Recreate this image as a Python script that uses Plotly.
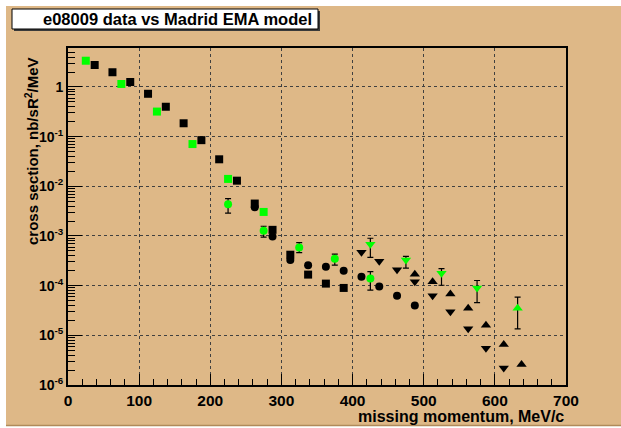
import plotly.graph_objects as go

# ---------------- data ----------------
bsq_x = [37.5, 62.5, 87.5, 112.5, 137.5, 162.5, 187.5, 212.5, 237.5, 262.5, 287.5, 312.5, 337.5, 362.5, 387.5]
bsq_y = [2.77, 1.98, 1.26, 0.73, 0.40, 0.186, 0.085, 0.035, 0.0130, 0.0045, 0.00133, 4.2e-4, 1.67e-4, 1.1e-4, 9.0e-5]

gsq_x = [25, 75, 125, 175, 225, 275]
gsq_y = [3.38, 1.15, 0.32, 0.071, 0.0141, 0.00305]

bci_x = [262.5, 287.5, 312.5, 337.5, 362.5, 387.5, 412.5, 437.5, 462.5, 487.5]
bci_y = [0.0038, 0.00098, 3.3e-4, 2.58e-4, 2.4e-4, 2.0e-4, 1.52e-4, 9.6e-5, 6.3e-5, 4.0e-5]

gci_x = [225, 275, 325, 375, 425]
gci_y = [0.00436, 0.00127, 5.9e-4, 3.5e-4, 1.39e-4]
gci_hi = [0.00566, 0.00157, 7.37e-4, 4.3e-4, 1.92e-4]
gci_lo = [0.00288, 0.000946, 4.63e-4, 2.58e-4, 8.1e-5]

bdt_x = [412.5, 437.5, 462.5, 487.5, 512.5, 537.5, 562.5, 587.5, 612.5]
bdt_y = [4.7e-4, 3.1e-4, 2.1e-4, 1.2e-4, 6.3e-5, 3.0e-5, 1.35e-5, 5.5e-6, 2.2e-6]

gdt_x = [425, 475, 525, 575]
gdt_y = [6.8e-4, 3.3e-4, 1.78e-4, 9.0e-5]
gdt_hi = [9.0e-4, 3.9e-4, 2.21e-4, 1.27e-4]
gdt_lo = [3.7e-4, 2.25e-4, 1.02e-4, 4.57e-5]

but_x = [487.5, 512.5, 537.5, 562.5, 587.5, 612.5, 637.5]
but_y = [1.7e-4, 1.2e-4, 6.8e-5, 3.5e-5, 1.6e-5, 6.5e-6, 2.6e-6]

gut_x = [632]
gut_y = [3.5e-5]
gut_hi = [5.87e-5]
gut_lo = [1.35e-5]

x_ticks = [0, 100, 200, 300, 400, 500, 600, 700]
y_ticks = [1e-6, 1e-5, 1e-4, 1e-3, 1e-2, 1e-1, 1]
y_ticktext = ["10<sup>-6</sup>", "10<sup>-5</sup>", "10<sup>-4</sup>", "10<sup>-3</sup>",
              "10<sup>-2</sup>", "10<sup>-1</sup>", "1"]

TITLE = "e08009 data vs Madrid EMA model"
XTITLE = "missing momentum, MeV/c"
YTITLE = "cross section, nb/sR<sup>2</sup>/MeV"

# ---------------- styling ----------------
TAN = "#DEB887"
GREEN = "#00FF00"
FONT = "Liberation Sans"

W, H = 621, 428
L, R, T, B = 68, 566, 48, 385  # plot frame in pixels


def px2paper(px, py):
    return (px - L) / (R - L), (B - py) / (B - T)


def err(y, hi, lo):
    return dict(type="data", symmetric=False,
                array=[h - v for h, v in zip(hi, y)],
                arrayminus=[v - l for v, l in zip(y, lo)],
                color="black", thickness=1.2, width=3)


fig = go.Figure()


def add(x, y, symbol, color, size, e=None):
    fig.add_trace(go.Scatter(x=x, y=y, mode="markers",
                             marker=dict(symbol=symbol, color=color, size=size, line=dict(width=0)),
                             error_y=e, showlegend=False, hoverinfo="skip"))


add(bsq_x, bsq_y, "square", "black", 8)
add(bci_x, bci_y, "circle", "black", 8)
add(bdt_x, bdt_y, "triangle-down", "black", 9)
add(but_x, but_y, "triangle-up", "black", 9)
add(gsq_x, gsq_y, "square", GREEN, 8)
add(gci_x, gci_y, "circle", GREEN, 8, err(gci_y, gci_hi, gci_lo))
add(gdt_x, gdt_y, "triangle-down", GREEN, 9, err(gdt_y, gdt_hi, gdt_lo))
add(gut_x, gut_y, "triangle-up", GREEN, 9, err(gut_y, gut_hi, gut_lo))

minor_y = [m * 10 ** k for k in range(-6, 1) for m in range(2, 10)]

fig.update_xaxes(range=[0, 700], tickvals=x_ticks, ticks="inside", ticklen=11, tickwidth=1.2,
                 tickcolor="black", showline=True, linecolor="black", linewidth=1.8, mirror=True,
                 showgrid=True, gridcolor="#404040", griddash="dot", gridwidth=1, zeroline=False,
                 tickfont=dict(family=FONT, size=15.5, color="black", weight="bold"),
                 minor=dict(dtick=20, ticks="inside", ticklen=6, tickcolor="black", showgrid=False))
fig.update_yaxes(type="log", range=[-6, 0.785], tickvals=y_ticks, ticktext=y_ticktext,
                 ticks="inside", ticklen=14, tickwidth=1.2, tickcolor="black",
                 showline=True, linecolor="black", linewidth=1.8, mirror=True,
                 showgrid=True, gridcolor="#404040", griddash="dot", gridwidth=1, zeroline=False,
                 tickfont=dict(family=FONT, size=14, color="black", weight="bold"),
                 minor=dict(tickvals=minor_y, ticks="inside", ticklen=7, tickcolor="black", showgrid=False))

shapes = []
# canvas background (tan with white top/left border)
shapes.append(dict(type="rect", xref="paper", yref="paper", layer="below",
                   x0=px2paper(6, 0)[0], x1=px2paper(W + 5, 0)[0],
                   y0=px2paper(0, 425)[1], y1=px2paper(0, 6)[1],
                   fillcolor=TAN, line=dict(width=0)))
shapes.append(dict(type="line", xref="paper", yref="paper", layer="below",
                   x0=px2paper(6, 0)[0], x1=px2paper(W + 5, 0)[0],
                   y0=px2paper(0, 425.5)[1], y1=px2paper(0, 425.5)[1],
                   line=dict(color="#b08a5a", width=1.5)))
# title box shadow + box
shapes.append(dict(type="rect", xref="paper", yref="paper",
                   x0=px2paper(14, 0)[0], x1=px2paper(320, 0)[0],
                   y0=px2paper(0, 31)[1], y1=px2paper(0, 11)[1],
                   fillcolor="#3a3a3a", line=dict(width=0)))
shapes.append(dict(type="rect", xref="paper", yref="paper",
                   x0=px2paper(12, 0)[0], x1=px2paper(318, 0)[0],
                   y0=px2paper(0, 29)[1], y1=px2paper(0, 9)[1],
                   fillcolor="white", line=dict(color="black", width=1)))

ann = []
tx, ty = px2paper(177, 19.5)
ann.append(dict(text="<b>" + TITLE + "</b>", x=tx, y=ty, xref="paper", yref="paper",
                showarrow=False, xanchor="center", yanchor="middle",
                font=dict(family=FONT, size=16.5, color="black")))
ax_, ay_ = px2paper(566, 416)
ann.append(dict(text="<b>" + XTITLE + "</b>", x=ax_, y=ay_, xref="paper", yref="paper",
                showarrow=False, xanchor="right", yanchor="middle",
                font=dict(family=FONT, size=16, color="black")))
bx_, by_ = px2paper(31, 151)
ann.append(dict(text="<b>" + YTITLE + "</b>", x=bx_, y=by_, xref="paper", yref="paper",
                showarrow=False, xanchor="center", yanchor="middle", textangle=-90,
                font=dict(family=FONT, size=15, color="black")))

fig.update_layout(width=W, height=H, autosize=False,
                  margin=dict(l=L, r=W - R, t=T, b=H - B, pad=0),
                  paper_bgcolor="white", plot_bgcolor=TAN,
                  shapes=shapes, annotations=ann, showlegend=False)

fig.write_html("out.html", config={"displayModeBar": False},
               post_script="document.body.style.margin='0';document.body.style.overflow='hidden';")
